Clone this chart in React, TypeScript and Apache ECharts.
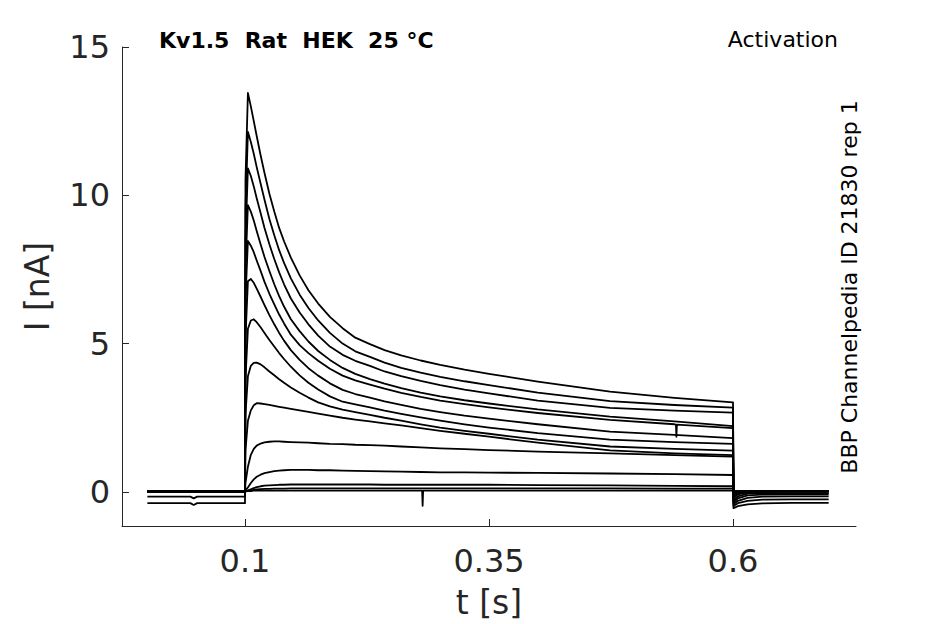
import React, { useEffect, useRef } from "react";
import * as echarts from "echarts";

// time samples (s) shared by all sweeps
const times = [
  0, 0.044, 0.0475, 0.051, 0.1,
  0.1005, 0.103, 0.106, 0.109, 0.112, 0.116, 0.12, 0.125, 0.13, 0.135,
  0.14, 0.147, 0.156, 0.165, 0.175, 0.187, 0.2, 0.213, 0.228, 0.243,
  0.26, 0.28, 0.3, 0.325, 0.35, 0.4, 0.474, 0.54, 0.6,
  0.6005, 0.605, 0.615, 0.63, 0.66, 0.698,
];

// current sweeps (nA), one per activation step
const trace1 = [-0.38, -0.38, -0.44, -0.38, -0.38,
  10.5, 13.45, 13.0, 12.5, 12.0, 11.35, 10.75, 10.05, 9.45, 8.9,
  8.45, 7.9, 7.3, 6.8, 6.35, 5.9, 5.52, 5.2, 4.98, 4.78,
  4.6, 4.43, 4.28, 4.12, 3.98, 3.72, 3.38, 3.17, 3.02,
  -0.55, -0.48, -0.42, -0.39, -0.37, -0.37];
const trace2 = [-0.16, -0.16, -0.22, -0.16, -0.16,
  9.5, 12.14, 11.8, 11.4, 10.95, 10.4, 9.85, 9.2, 8.65, 8.15,
  7.72, 7.2, 6.65, 6.2, 5.78, 5.36, 5.0, 4.74, 4.55, 4.36,
  4.18, 4.02, 3.88, 3.73, 3.6, 3.35, 3.06, 2.93, 2.84,
  -0.48, -0.38, -0.3, -0.26, -0.25, -0.25];
const trace3 = [0.0, 0.0, 0.0, 0.0, 0.0,
  8.5, 10.91, 10.65, 10.3, 9.9, 9.4, 8.9, 8.35, 7.85, 7.4,
  7.0, 6.52, 6.05, 5.65, 5.27, 4.9, 4.62, 4.42, 4.25, 4.06,
  3.9, 3.74, 3.6, 3.45, 3.32, 3.08, 2.83, 2.74, 2.67,
  -0.42, -0.3, -0.2, -0.16, -0.15, -0.15];
const trace4 = [0.02, 0.02, 0.02, 0.02, 0.02,
  7.5, 9.67, 9.45, 9.15, 8.8, 8.35, 7.92, 7.45, 7.0, 6.6,
  6.25, 5.82, 5.42, 5.07, 4.75, 4.45, 4.18, 3.98, 3.8, 3.65,
  3.5, 3.35, 3.22, 3.09, 2.98, 2.78, 2.54, 2.38, 2.22,
  -0.36, -0.22, -0.12, -0.09, -0.08, -0.08];
const trace5 = [0.02, 0.02, 0.02, 0.02, 0.02,
  6.5, 8.46, 8.3, 8.08, 7.8, 7.45, 7.08, 6.68, 6.32, 5.98,
  5.68, 5.3, 4.95, 4.68, 4.42, 4.15, 3.92, 3.76, 3.62, 3.48,
  3.34, 3.2, 3.08, 2.96, 2.85, 2.66, 2.43, 2.28, 2.15,
  -0.3, -0.15, -0.06, -0.04, -0.04, -0.04];
const trace6 = [0.02, 0.02, 0.02, 0.02, 0.02,
  5.2, 7.1, 7.18, 7.05, 6.85, 6.58, 6.3, 5.96, 5.65, 5.36,
  5.1, 4.78, 4.45, 4.17, 3.92, 3.66, 3.44, 3.3, 3.18, 3.05,
  2.93, 2.8, 2.69, 2.57, 2.47, 2.28, 2.03, 1.92, 1.81,
  -0.22, -0.08, -0.02, 0.0, 0.01, 0.01];
const trace7 = [0.02, 0.02, 0.02, 0.02, 0.02,
  3.8, 5.5, 5.78, 5.82, 5.72, 5.55, 5.36, 5.12, 4.9, 4.68,
  4.48, 4.22, 3.93, 3.68, 3.45, 3.22, 3.04, 2.95, 2.85, 2.74,
  2.63, 2.51, 2.4, 2.28, 2.17, 1.98, 1.76, 1.68, 1.62,
  -0.15, -0.04, 0.0, 0.01, 0.02, 0.02];
const trace8 = [0.02, 0.02, 0.02, 0.02, 0.02,
  2.6, 3.9, 4.25, 4.35, 4.36, 4.3, 4.2, 4.06, 3.93, 3.8,
  3.68, 3.52, 3.34, 3.18, 3.02, 2.88, 2.77, 2.69, 2.6, 2.5,
  2.4, 2.28, 2.17, 2.06, 1.96, 1.76, 1.53, 1.45, 1.39,
  -0.1, -0.02, 0.01, 0.02, 0.02, 0.02];
const trace9 = [0.02, 0.02, 0.02, 0.02, 0.02,
  1.4, 2.4, 2.75, 2.92, 2.99, 2.98, 2.96, 2.93, 2.9, 2.87,
  2.84, 2.8, 2.75, 2.7, 2.64, 2.57, 2.5, 2.44, 2.38, 2.31,
  2.24, 2.15, 2.06, 1.96, 1.86, 1.66, 1.4, 1.3, 1.24,
  -0.06, 0.0, 0.02, 0.02, 0.02, 0.02];
const trace10 = [0.02, 0.02, 0.02, 0.02, 0.02,
  0.3, 0.85, 1.25, 1.45, 1.56, 1.63, 1.67, 1.69, 1.7, 1.7,
  1.69, 1.68, 1.67, 1.66, 1.64, 1.62, 1.61, 1.59, 1.58, 1.56,
  1.53, 1.5, 1.47, 1.44, 1.41, 1.36, 1.3, 1.24, 1.19,
  -0.04, 0.01, 0.02, 0.02, 0.02, 0.02];
const trace11 = [0.02, 0.02, 0.02, 0.02, 0.02,
  0.05, 0.15, 0.3, 0.42, 0.51, 0.58, 0.63, 0.67, 0.7, 0.72,
  0.73, 0.74, 0.74, 0.74, 0.73, 0.73, 0.72, 0.71, 0.7, 0.69,
  0.68, 0.67, 0.66, 0.66, 0.65, 0.64, 0.62, 0.6, 0.57,
  -0.02, 0.02, 0.03, 0.03, 0.03, 0.03];
const trace12 = [0.02, 0.02, 0.02, 0.02, 0.02,
  0.02, 0.05, 0.09, 0.13, 0.16, 0.19, 0.21, 0.22, 0.23, 0.24,
  0.24, 0.25, 0.25, 0.25, 0.25, 0.25, 0.25, 0.25, 0.25, 0.24,
  0.24, 0.24, 0.24, 0.24, 0.24, 0.23, 0.22, 0.2, 0.19,
  0.0, 0.03, 0.03, 0.03, 0.03, 0.03];
const trace13 = [0.02, 0.02, 0.02, 0.02, 0.02,
  0.02, 0.03, 0.05, 0.07, 0.08, 0.09, 0.1, 0.1, 0.11, 0.11,
  0.11, 0.12, 0.12, 0.12, 0.12, 0.12, 0.12, 0.12, 0.12, 0.12,
  0.12, 0.12, 0.12, 0.12, 0.12, 0.12, 0.12, 0.11, 0.11,
  0.01, 0.03, 0.03, 0.03, 0.03, 0.03];
const trace14 = [0.02, 0.02, 0.02, 0.02, 0.02,
  0.02, 0.03, 0.03, 0.04, 0.04, 0.04, 0.04, 0.04, 0.04, 0.04,
  0.04, 0.04, 0.04, 0.04, 0.04, 0.04, 0.04, 0.04, 0.04, 0.04,
  0.04, 0.04, 0.04, 0.04, 0.04, 0.04, 0.04, 0.04, 0.04,
  0.02, 0.03, 0.03, 0.03, 0.03, 0.03];

// recording artefacts (t, nA)
const spike5 = [[0.5415, 2.27], [0.542, 1.86], [0.5425, 2.27]];
const spike14 = [[0.2815, 0.04], [0.282, -0.47], [0.2825, 0.04]];

const sweeps = [trace1, trace2, trace3, trace4, trace5, trace6, trace7, trace8, trace9, trace10, trace11, trace12, trace13, trace14];
const spikes: Record<number, number[][]> = { 4: spike5, 13: spike14 };

const xTicks = [0.1, 0.35, 0.6];
const yTicks = [0, 5, 10, 15];

const FONT = "DejaVu Sans";
const AX = "#262626";

export default function App() {
  const ref = useRef<HTMLDivElement>(null);
  useEffect(() => {
    document.body.style.margin = "0";
    if (!ref.current) return;
    const chart = echarts.init(ref.current, null, { renderer: "svg" });
    const series = sweeps.map((vals, i) => {
      const pts = times.map((t, k) => [t, vals[k]]);
      const extra = spikes[i] || [];
      const all = pts.concat(extra).sort((a, b) => a[0] - b[0]);
      return {
        type: "line",
        data: all,
        showSymbol: false,
        symbol: "none",
        lineStyle: { color: "#000", width: 1.8, join: "round" },
        itemStyle: { color: "#000" },
        silent: true,
      };
    });
    chart.setOption({
      animation: false,
      textStyle: { fontFamily: FONT },
      grid: { left: 122, right: 89, top: 47, bottom: 98, containLabel: false, outerBoundsMode: "none" },
      xAxis: {
        type: "value",
        min: -0.026,
        max: 0.726,
        name: "t [s]",
        nameLocation: "middle",
        nameGap: 60,
        nameTextStyle: { fontSize: 33, color: AX, fontFamily: FONT },
        axisLine: { show: true, onZero: false, lineStyle: { color: AX, width: 1 } },
        axisTick: { show: true, inside: true, length: 7, customValues: xTicks, lineStyle: { color: AX } },
        axisLabel: {
          customValues: xTicks,
          fontSize: 32,
          color: AX,
          margin: 19,
          fontFamily: FONT,
          formatter: (v: number) => String(v),
        },
        splitLine: { show: false },
      },
      yAxis: {
        type: "value",
        min: -1.15,
        max: 15,
        name: "I [nA]",
        nameLocation: "middle",
        nameGap: 68,
        nameTextStyle: { fontSize: 33, color: AX, fontFamily: FONT },
        axisLine: { show: true, onZero: false, lineStyle: { color: AX, width: 1 } },
        axisTick: { show: true, inside: true, length: 7, customValues: yTicks, lineStyle: { color: AX } },
        axisLabel: {
          customValues: yTicks,
          fontSize: 32,
          color: AX,
          margin: 12,
          fontFamily: FONT,
          formatter: (v: number) => String(v),
        },
        splitLine: { show: false },
      },
      graphic: [
        {
          type: "text",
          x: 159,
          y: 40,
          style: {
            text: "Kv1.5  Rat  HEK  25 °C",
            font: `bold 22px '${FONT}'`,
            fill: "#000",
            verticalAlign: "middle",
            align: "left",
          },
        },
        {
          type: "text",
          x: 838,
          y: 39,
          style: {
            text: "Activation",
            font: `22px '${FONT}'`,
            fill: "#000",
            verticalAlign: "middle",
            align: "right",
          },
        },
        {
          type: "text",
          x: 849,
          y: 287,
          rotation: Math.PI / 2,
          style: {
            text: "BBP Channelpedia ID 21830 rep 1",
            font: `22px '${FONT}'`,
            fill: "#000",
            verticalAlign: "middle",
            align: "center",
          },
        },
      ],
      series,
    });
    return () => chart.dispose();
  }, []);
  return <div ref={ref} style={{ width: 945, height: 624 }} />;
}
